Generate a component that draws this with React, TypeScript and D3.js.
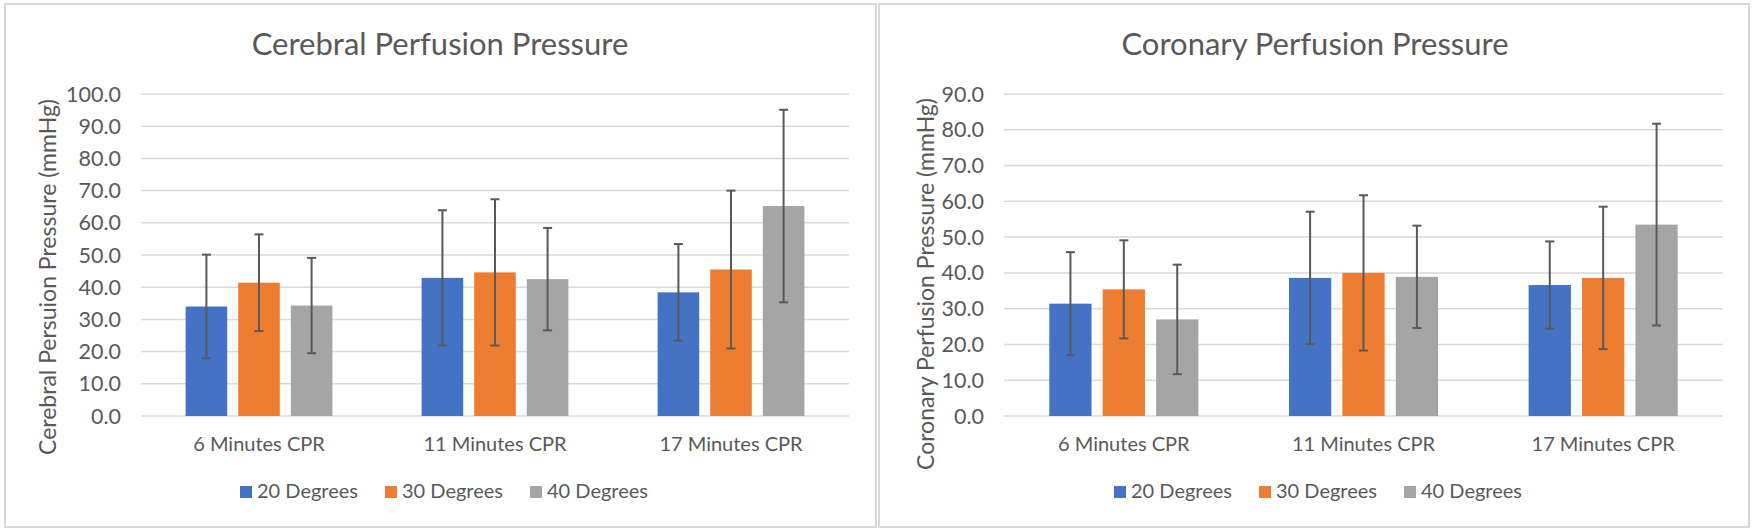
import React, { useEffect, useRef } from "react";
import * as d3 from "d3";

const categories = ["6 Minutes CPR", "11 Minutes CPR", "17 Minutes CPR"];
const seriesNames = ["20 Degrees", "30 Degrees", "40 Degrees"];
const seriesColors = ["#4472C4", "#ED7D31", "#A5A5A5"];

// Cerebral perfusion pressure (mmHg): means and error (±)
const cerebral20 = [34.0, 42.9, 38.4];
const cerebral30 = [41.4, 44.6, 45.5];
const cerebral40 = [34.3, 42.5, 65.2];
const cerebralErr20 = [16.1, 21.0, 15.0];
const cerebralErr30 = [15.0, 22.7, 24.5];
const cerebralErr40 = [14.8, 15.9, 29.9];

// Coronary perfusion pressure (mmHg)
const coronary20 = [31.4, 38.6, 36.6];
const coronary30 = [35.4, 40.0, 38.6];
const coronary40 = [27.0, 38.9, 53.5];
const coronaryErr20 = [14.4, 18.5, 12.2];
const coronaryErr30 = [13.7, 21.7, 19.9];
const coronaryErr40 = [15.3, 14.3, 28.2];

const cerebralTicks = [0, 10, 20, 30, 40, 50, 60, 70, 80, 90, 100];
const coronaryTicks = [0, 10, 20, 30, 40, 50, 60, 70, 80, 90];

const FONT = "Lato, 'Open Sans', sans-serif";
const TEXT = "#595959";

type ChartCfg = {
  title: string;
  yLabel: string;
  means: number[][];
  errs: number[][];
  ticks: number[];
  panel: [number, number, number, number];
  plot: [number, number, number, number];
  tickRight: number;
  yLabelPos: [number, number];
  titleX: number;
  legendX: number;
};

const charts: ChartCfg[] = [
  {
    title: "Cerebral Perfusion Pressure",
    yLabel: "Cerebral Persuion Pressure (mmHg)",
    means: [cerebral20, cerebral30, cerebral40],
    errs: [cerebralErr20, cerebralErr30, cerebralErr40],
    ticks: cerebralTicks,
    panel: [5, 4, 871, 523],
    plot: [141, 94, 849, 416],
    tickRight: 121,
    yLabelPos: [48, 277],
    titleX: 440,
    legendX: 444,
  },
  {
    title: "Coronary Perfusion Pressure",
    yLabel: "Coronary Perfusion Pressure (mmHg)",
    means: [coronary20, coronary30, coronary40],
    errs: [coronaryErr20, coronaryErr30, coronaryErr40],
    ticks: coronaryTicks,
    panel: [879, 4, 870, 523],
    plot: [1004, 94, 1723, 416],
    tickRight: 984,
    yLabelPos: [926, 284],
    titleX: 1315,
    legendX: 1318,
  },
];

function drawChart(svg: d3.Selection<SVGSVGElement, unknown, null, undefined>, c: ChartCfg) {
  const g = svg.append("g");
  const [px, py, pw, ph] = c.panel;
  g.append("rect")
    .attr("x", px).attr("y", py).attr("width", pw).attr("height", ph)
    .attr("fill", "#ffffff").attr("stroke", "#d9d9d9").attr("stroke-width", 2);

  const [l, t, r, b] = c.plot;
  const yMax = c.ticks[c.ticks.length - 1];
  const y = d3.scaleLinear().domain([0, yMax]).range([b, t]);
  const x0 = d3.scaleBand<string>().domain(categories).range([l, r]).paddingInner(0.378).paddingOuter(0.189);
  const x1 = d3.scaleBand<string>().domain(seriesNames).range([0, x0.bandwidth()]).paddingInner(0.209);

  // title
  g.append("text")
    .attr("x", c.titleX).attr("y", 55)
    .attr("text-anchor", "middle")
    .attr("font-family", FONT).attr("font-size", 31)
    .attr("fill", TEXT)
    .text(c.title);

  // gridlines
  g.append("g").selectAll("line").data(c.ticks).join("line")
    .attr("x1", l).attr("x2", r)
    .attr("y1", (d) => y(d)).attr("y2", (d) => y(d))
    .attr("stroke", "#d9d9d9").attr("stroke-width", 1.5);

  // tick labels
  g.append("g").selectAll("text").data(c.ticks).join("text")
    .attr("x", c.tickRight).attr("y", (d) => y(d))
    .attr("dy", "0.35em")
    .attr("text-anchor", "end")
    .attr("font-family", FONT).attr("font-size", 21.5)
    .attr("fill", TEXT)
    .text((d) => d3.format(".1f")(d));

  // y label
  g.append("text")
    .attr("transform", `translate(${c.yLabelPos[0]},${c.yLabelPos[1]}) rotate(-90)`)
    .attr("dy", "0.35em")
    .attr("text-anchor", "middle")
    .attr("font-family", FONT).attr("font-size", 23)
    .attr("fill", TEXT)
    .text(c.yLabel);

  // bars
  seriesNames.forEach((s, si) => {
    const sg = g.append("g");
    sg.selectAll("rect").data(c.means[si]).join("rect")
      .attr("x", (_d, i) => (x0(categories[i]) as number) + (x1(s) as number))
      .attr("y", (d) => y(d))
      .attr("width", x1.bandwidth())
      .attr("height", (d) => y(0) - y(d))
      .attr("fill", seriesColors[si]);
  });

  // error bars
  seriesNames.forEach((s, si) => {
    const eg = g.append("g").attr("stroke", "#595959").attr("stroke-width", 2);
    c.means[si].forEach((m, i) => {
      const cx = (x0(categories[i]) as number) + (x1(s) as number) + x1.bandwidth() / 2;
      const hi = y(m + c.errs[si][i]);
      const lo = y(m - c.errs[si][i]);
      eg.append("line").attr("x1", cx).attr("x2", cx).attr("y1", hi).attr("y2", lo);
      eg.append("line").attr("x1", cx - 4.5).attr("x2", cx + 4.5).attr("y1", hi).attr("y2", hi);
      eg.append("line").attr("x1", cx - 4.5).attr("x2", cx + 4.5).attr("y1", lo).attr("y2", lo);
    });
  });

  // category labels
  g.append("g").selectAll("text").data(categories).join("text")
    .attr("x", (d) => (x0(d) as number) + x0.bandwidth() / 2)
    .attr("y", 451)
    .attr("text-anchor", "middle")
    .attr("font-family", FONT).attr("font-size", 20)
    .attr("fill", TEXT)
    .text((d) => d);

  // legend
  const lg = g.append("g");
  const items = lg.selectAll("g").data(seriesNames).join("g");
  items.append("rect")
    .attr("width", 12).attr("height", 12).attr("y", 486)
    .attr("fill", (_d, i) => seriesColors[i]);
  items.append("text")
    .attr("y", 498)
    .attr("font-family", FONT).attr("font-size", 20)
    .attr("fill", TEXT)
    .text((d) => d);
  const widths: number[] = [];
  items.selectAll<SVGTextElement, string>("text").each(function () {
    widths.push(this.getComputedTextLength());
  });
  const sq = 12, gap1 = 5, gap2 = 27;
  const total = widths.reduce((a, w) => a + sq + gap1 + w, 0) + gap2 * (widths.length - 1);
  let cur = c.legendX - total / 2;
  items.each(function (_d, i) {
    const it = d3.select(this);
    it.select("rect").attr("x", cur);
    it.select("text").attr("x", cur + sq + gap1);
    cur += sq + gap1 + widths[i] + gap2;
  });
}

export default function App() {
  const ref = useRef<SVGSVGElement>(null);
  useEffect(() => {
    if (!ref.current) return;
    const svg = d3.select(ref.current);
    svg.selectAll("*").remove();
    svg.append("rect").attr("width", 1755).attr("height", 532).attr("fill", "#ffffff");
    charts.forEach((c) => drawChart(svg, c));
  }, []);
  return (
    <svg
      ref={ref}
      width={1755}
      height={532}
      style={{ position: "absolute", left: 0, top: 0, display: "block" }}
    />
  );
}
